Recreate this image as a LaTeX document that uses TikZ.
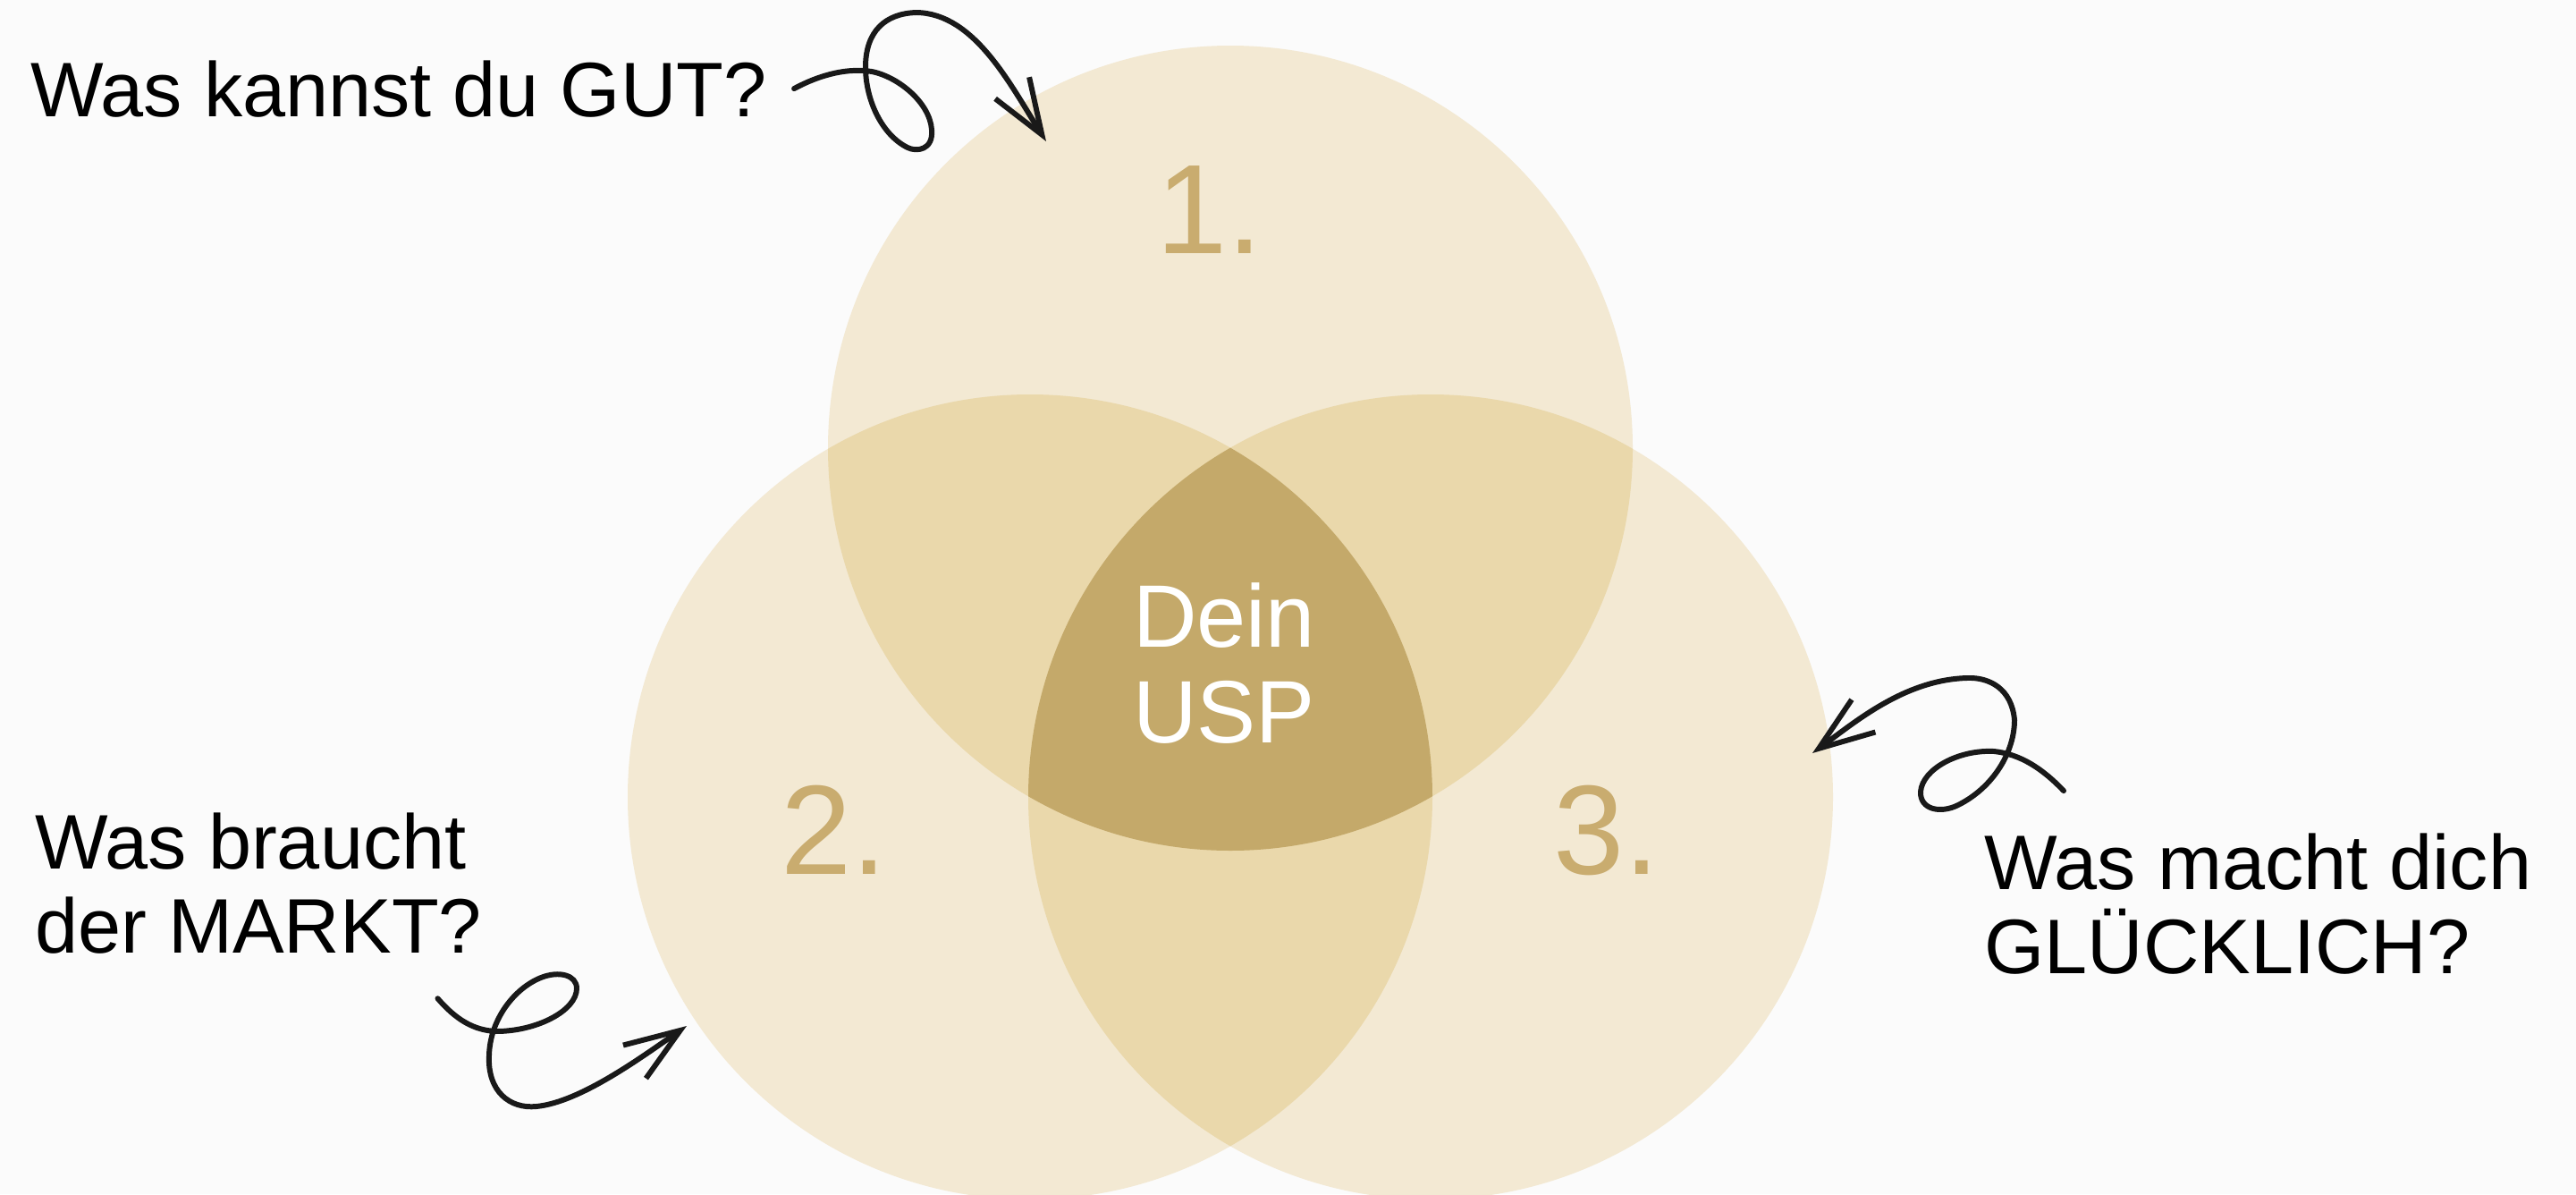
\documentclass[tikz,border=0pt]{standalone}
\usepackage{fontspec}
\setmainfont{Liberation Sans}
\usepackage{xcolor}
\usepackage{tikz}
\usetikzlibrary{arrows.meta}

\begin{document}
\begin{tikzpicture}[auto, thick]

  % Define Colors
  \definecolor{paper}{RGB}{251,251,251}
  \definecolor{sand}{RGB}{243,233,211}
  \definecolor{wheat}{RGB}{234,216,171}
  \definecolor{ochre}{RGB}{196,169,106}
  \definecolor{digit}{RGB}{201,172,111}

  % Node styles
  \tikzstyle{qtext}=[anchor=base west, align=left, inner sep=0.29cm, font=\fontsize{24.6pt}{26.7pt}\selectfont]
  \tikzstyle{numtxt}=[anchor=base, inner sep=0pt, text=digit, font=\fontsize{40.5pt}{42pt}\selectfont]
  \tikzstyle{usptxt}=[anchor=base, align=center, inner sep=0pt, text=white, font=\fontsize{28.2pt}{30.2pt}\selectfont]
  \tikzstyle{scrawl}=[line width=1.7pt, black!90, line cap=round, line join=round,
    -{Straight Barb[length=0.62cm, width=0.45cm, line width=1.7pt]}]

  \useasboundingbox (0,0) rectangle (28.81,13.35);
  \fill[paper] (0,0) rectangle (28.81,13.35);

  % Circle centres
  \coordinate (c_1) at (13.76,8.34);
  \coordinate (c_2) at (11.52,4.44);
  \coordinate (c_3) at (16.00,4.44);

  % Circles
  \foreach \c in {c_1,c_2,c_3}
    \fill[sand] (\c) circle (4.5cm);

  % pairwise overlaps
  \begin{scope}
    \clip (c_1) circle (4.5cm);
    \fill[wheat] (c_2) circle (4.5cm);
    \fill[wheat] (c_3) circle (4.5cm);
  \end{scope}
  \begin{scope}
    \clip (c_2) circle (4.5cm);
    \fill[wheat] (c_3) circle (4.5cm);
  \end{scope}

  % all three
  \begin{scope}
    \clip (c_1) circle (4.5cm);
    \clip (c_2) circle (4.5cm);
    \fill[ochre] (c_3) circle (4.5cm);
  \end{scope}

  % Nodes (multi-line ones sit on their last baseline)
  \node[numtxt] (n_1) at (13.53,10.52) {1.};
  \node[numtxt] (n_2) at (9.33,3.58) {2.};
  \node[numtxt] (n_3) at (17.97,3.58) {3.};

  \node[usptxt] (usp) at (13.69,5.05) {Dein\\USP};

  \node[qtext] (q_1) at (0.04,12.05) {Was kannst du GUT?};
  \node[qtext] (q_2) at (0.09,2.70) {Was braucht\\der MARKT?};
  \node[qtext] (q_3) at (21.89,2.47) {Was macht dich\\GLÜCKLICH?};

  % arrow tips
  \coordinate (t_1) at (11.70,11.77);
  \coordinate (t_2) at (7.68,1.88);
  \coordinate (t_3) at (20.27,4.93);

  % Curly arrows
  \draw[scrawl] (q_1.east) .. controls (9.20,12.53) and (9.50,12.59) .. (9.75,12.55)
    .. controls (10.05,12.49) and (10.40,12.20) .. (10.42,11.90)
    .. controls (10.44,11.67) and (10.25,11.65) .. (10.15,11.70)
    .. controls (9.85,11.85) and (9.68,12.25) .. (9.68,12.60)
    .. controls (9.68,13.00) and (9.90,13.20) .. (10.25,13.21)
    .. controls (10.90,13.20) and (11.30,12.40) .. (t_1);

  \draw[scrawl] ([shift={(-0.8,-0.2)}]q_2.south east) .. controls (5.10,1.95) and (5.30,1.83) .. (5.55,1.82)
    .. controls (6.00,1.82) and (6.45,2.05) .. (6.45,2.30)
    .. controls (6.45,2.45) and (6.25,2.50) .. (6.05,2.42)
    .. controls (5.75,2.30) and (5.48,1.95) .. (5.47,1.55)
    .. controls (5.45,1.15) and (5.70,0.95) .. (6.00,0.98)
    .. controls (6.50,1.03) and (7.20,1.55) .. (t_2);

  \draw[scrawl] ([shift={(1.19,0.17)}]q_3.north west) .. controls (22.85,4.75) and (22.60,4.92) .. (22.30,4.95)
    .. controls (21.90,4.97) and (21.50,4.75) .. (21.48,4.50)
    .. controls (21.47,4.30) and (21.70,4.25) .. (21.90,4.35)
    .. controls (22.30,4.55) and (22.53,4.95) .. (22.53,5.30)
    .. controls (22.50,5.65) and (22.25,5.78) .. (22.00,5.77)
    .. controls (21.30,5.75) and (20.75,5.28) .. (t_3);

\end{tikzpicture}
\end{document}
